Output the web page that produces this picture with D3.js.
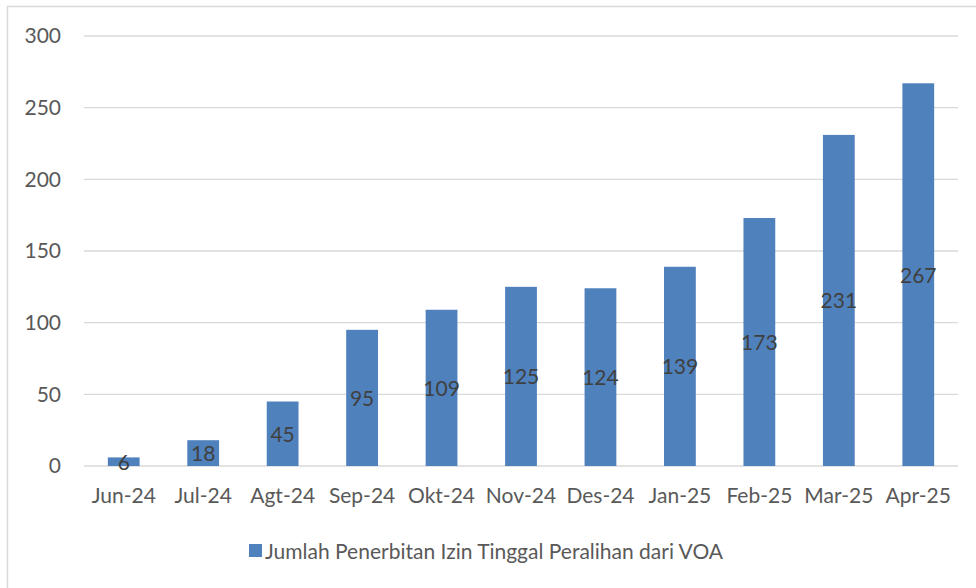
<!DOCTYPE html>
<html><head><meta charset="utf-8">
<script src="https://cdn.jsdelivr.net/npm/d3@7"></script>
<style>body{margin:0;background:#fff}svg{display:block}</style>
</head><body>
<svg id="c" width="976" height="588"></svg>
<script>
const categories = ["Jun-24","Jul-24","Agt-24","Sep-24","Okt-24","Nov-24","Des-24","Jan-25","Feb-25","Mar-25","Apr-25"];
const values = [6,18,45,95,109,125,124,139,173,231,267];
const yTicks = [0,50,100,150,200,250,300];
const seriesName = "Jumlah Penerbitan Izin Tinggal Peralihan dari VOA";

(function(){
const font = "Lato, 'Open Sans', sans-serif";
const fs = 21;
const svg = d3.select("#c");
svg.append("rect").attr("x",7.5).attr("y",6.5).attr("width",1000).attr("height",1000)
  .attr("fill","none").attr("stroke","#D9D9D9").attr("stroke-width",1.5);

const pL=84, pR=958, pT=36, pB=466;
const x = d3.scaleBand().domain(categories).range([pL,pR]).paddingInner(0.6).paddingOuter(0.3);
const y = d3.scaleLinear().domain([0,300]).range([pB,pT]);

svg.append("g").selectAll("line").data(yTicks).join("line")
  .attr("x1",pL).attr("x2",pR).attr("y1",d=>y(d)).attr("y2",d=>y(d))
  .attr("stroke","#D9D9D9").attr("stroke-width",1.3);

const yAxis = svg.append("g").attr("transform",`translate(${pL},0)`)
  .call(d3.axisLeft(y).tickValues(yTicks).tickSize(0).tickPadding(23));
yAxis.select(".domain").remove();
yAxis.selectAll("text").attr("font-family",font).attr("font-size",fs).attr("fill","#595959");

svg.append("g").selectAll("rect").data(values).join("rect")
  .attr("x",(d,i)=>x(categories[i])).attr("width",x.bandwidth())
  .attr("y",d=>y(d)).attr("height",d=>y(0)-y(d)).attr("fill","#4F81BD");

const xAxis = svg.append("g").attr("transform",`translate(0,${pB})`)
  .call(d3.axisBottom(x).tickSize(0).tickPadding(22));
xAxis.select(".domain").remove();
xAxis.selectAll("text").attr("font-family",font).attr("font-size",fs).attr("fill","#595959");

svg.append("g").selectAll("text").data(values).join("text")
  .attr("x",(d,i)=>x(categories[i])+x.bandwidth()/2)
  .attr("y",d=>(y(d)+y(0))/2).attr("dy","0.38em")
  .attr("text-anchor","middle").attr("font-family",font).attr("font-size",fs).attr("fill","#404040")
  .text(d=>d);

const lg = svg.append("g");
lg.append("rect").attr("x",249).attr("y",544).attr("width",13).attr("height",13).attr("fill","#4F81BD");
lg.append("text").attr("x",265).attr("y",551).attr("dy","0.36em").attr("font-family",font)
  .attr("font-size",fs).attr("fill","#595959").text(seriesName);
})();
</script>
</body></html>
